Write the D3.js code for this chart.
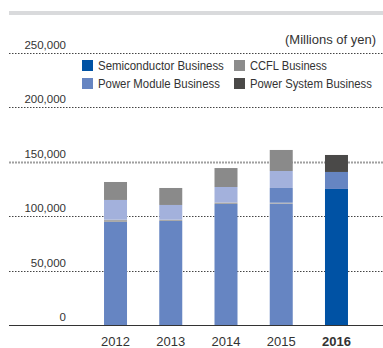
<!DOCTYPE html>
<html>
<head>
<meta charset="utf-8">
<script src="https://cdn.jsdelivr.net/npm/d3@7"></script>
<style>
  html, body { margin: 0; padding: 0; background: #fff; }
  svg { display: block; }
  text { font-family: "Liberation Sans", Arial, sans-serif; fill: #333; }
</style>
</head>
<body>
<svg id="chart" width="383" height="348"></svg>
<script>
// Net sales by business, fiscal years 2012–2016 (millions of yen)
const years = ["2012", "2013", "2014", "2015", "2016"];
const semiconductor   = [94600, 95500, 111100, 111400, 124900];
const otherBusiness   = [2100, 1200, 1400, 900, 0];
const semiconductorB  = [0, 0, 0, 13500, 0];
const powerModule     = [18100, 13500, 14200, 15600, 15600];
const ccfl            = [16500, 15600, 17400, 19300, 0];
const powerSystem     = [0, 0, 0, 0, 15600];
const yTicks = [0, 50000, 100000, 150000, 200000, 250000];
const currentYear = "2016";

const legendItems = [
  { label: "Semiconductor Business", color: "#0052a4", width: 126 },
  { label: "CCFL Business",          color: "#8c8c8c", width: 77 },
  { label: "Power Module Business",  color: "#6685c2", width: 122 },
  { label: "Power System Business",  color: "#4a4948", width: 122 }
];

// Stack order, bottom to top
const keys = ["semiconductor", "otherBusiness", "semiconductorB", "powerModule", "ccfl", "powerSystem"];
const rows = years.map((y, i) => ({
  year: y,
  semiconductor: semiconductor[i],
  otherBusiness: otherBusiness[i],
  semiconductorB: semiconductorB[i],
  powerModule: powerModule[i],
  ccfl: ccfl[i],
  powerSystem: powerSystem[i]
}));

// Past years are drawn in a muted palette, the current year in full colour
const pastColors = {
  semiconductor: "#6685c2", otherBusiness: "#a8a8a8", semiconductorB: "#6685c2",
  powerModule: "#a3b1dc", ccfl: "#8a8a8a", powerSystem: "#4a4948"
};
const currentColors = {
  semiconductor: "#0052a4", otherBusiness: "#a8a8a8", semiconductorB: "#0052a4",
  powerModule: "#6685c2", ccfl: "#8c8c8c", powerSystem: "#4a4948"
};

const svg = d3.select("#chart");
const left = 9, right = 383;

const x = d3.scaleBand().domain(years).range([87.9, 364.1])
  .paddingInner(0.5837).paddingOuter(0.5837 / 2);
const y = d3.scaleLinear().domain([0, 250000]).range([325, 52.7]);

// Condensed text: squeeze a label horizontally to a given width around its anchor x
function condense(sel, anchorX, width) {
  const natural = sel.node().getComputedTextLength();
  const sx = Math.min(1, width / natural);
  sel.attr("transform", `translate(${anchorX},0) scale(${sx},1) translate(${-anchorX},0)`);
}

// Header rule
svg.append("rect").attr("x", left).attr("y", 11).attr("width", right - left).attr("height", 4)
  .attr("fill", "#d9dadc");

// Gridlines
svg.append("g").selectAll("line").data(yTicks.filter(d => d > 0)).join("line")
  .attr("x1", left).attr("x2", right)
  .attr("y1", d => Math.round(y(d)) + 0.5).attr("y2", d => Math.round(y(d)) + 0.5)
  .attr("stroke", d => d === 150000 ? "#a0a0a0" : "#444")
  .attr("stroke-width", d => d === 150000 ? 2 : 1)
  .attr("stroke-dasharray", d => d === 150000 ? "2,1" : "1.5,1.5");

// Y tick labels
const yAxis = d3.axisLeft(y).tickValues(yTicks).tickSize(0).tickPadding(0)
  .tickFormat(d3.format(","));
const gy = svg.append("g").attr("transform", "translate(66,-8)").call(yAxis);
gy.select(".domain").remove();
gy.selectAll("text").attr("font-size", 11.5).attr("fill", "#333")
  .style("font-family", "'Liberation Sans', Arial, sans-serif");

// Stacked bars
const series = d3.stack().keys(keys)(rows);
svg.append("g").selectAll("g").data(series).join("g")
  .selectAll("rect").data(s => s.map(d => ({ key: s.key, d })).filter(o => o.d[1] > o.d[0])).join("rect")
  .attr("x", o => x(o.d.data.year))
  .attr("width", x.bandwidth())
  .attr("y", o => y(o.d[1]))
  .attr("height", o => y(o.d[0]) - y(o.d[1]))
  .attr("fill", o => (o.d.data.year === currentYear ? currentColors : pastColors)[o.key]);

// Baseline
svg.append("line").attr("x1", left).attr("x2", right)
  .attr("y1", Math.round(y(0)) + 0.5).attr("y2", Math.round(y(0)) + 0.5)
  .attr("stroke", "#333").attr("stroke-width", 1);

// X axis labels
const xAxis = d3.axisBottom(x).tickSize(0).tickPadding(0);
const gx = svg.append("g").attr("transform", "translate(0,337)").call(xAxis);
gx.select(".domain").remove();
gx.selectAll("text").attr("font-size", 13).attr("fill", "#333")
  .style("font-family", "'Liberation Sans', Arial, sans-serif")
  .attr("font-weight", d => d === currentYear ? "bold" : "normal");

// Unit label
const unit = svg.append("text").attr("x", 376).attr("y", 44).attr("text-anchor", "end")
  .attr("font-size", 13).attr("fill", "#444")
  .text("(Millions of yen)");
condense(unit, 376, 93);

// Legend
const lg = svg.append("g");
legendItems.forEach((item, i) => {
  const col = i % 2, row = Math.floor(i / 2);
  const lx = col === 0 ? 82 : 234, ly = 60 + row * 18;
  lg.append("rect").attr("x", lx).attr("y", ly).attr("width", 11).attr("height", 11)
    .attr("fill", item.color);
  const t = lg.append("text").attr("x", lx + 16).attr("y", ly + 10.5)
    .attr("font-size", 13.5).attr("fill", "#444")
    .text(item.label);
  condense(t, lx + 16, item.width);
});
</script>
</body>
</html>
